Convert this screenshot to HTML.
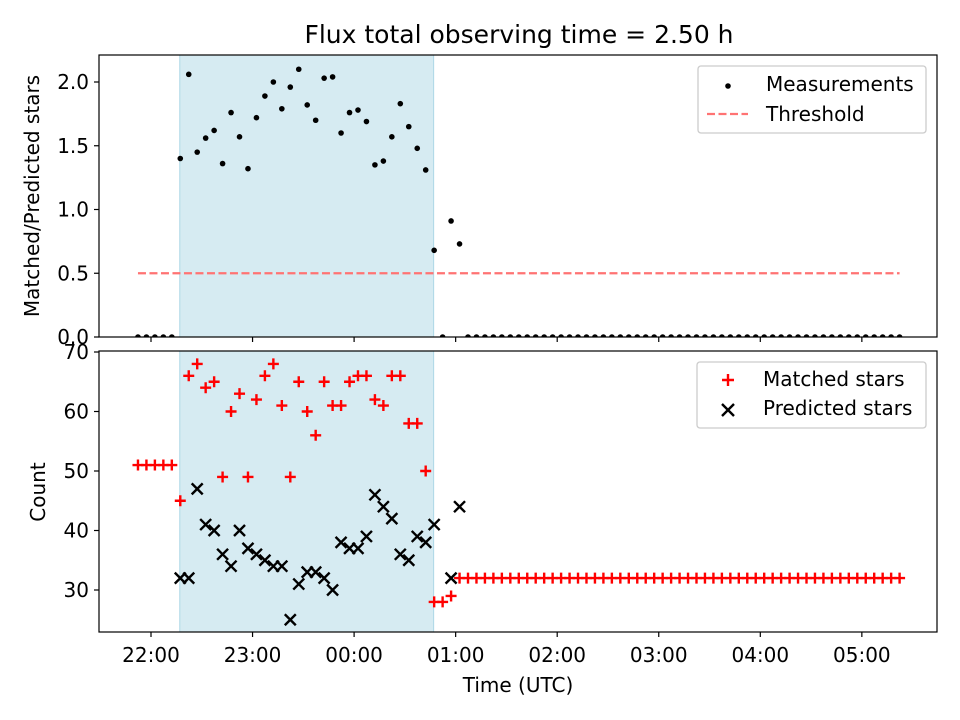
<!DOCTYPE html>
<html><head><meta charset="utf-8"><style>
body{margin:0;background:#fff;font-family:"Liberation Sans",sans-serif}
</style></head><body>
<svg id="chart" width="960" height="720" xmlns="http://www.w3.org/2000/svg" font-family="DejaVu Sans, Liberation Sans, sans-serif" style="position:absolute;left:0;top:0">
</svg>
<script>
// data (5-minute cadence, index i -> start time + 5*i minutes)
const startMinutes = 52.3; // minutes after 21:00
const ratios = [0,0,0,0,0,1.40,2.06,1.45,1.56,1.62,1.36,1.76,1.57,1.32,1.72,1.89,2.00,1.79,1.96,2.10,1.82,1.70,2.03,2.04,1.60,1.76,1.78,1.69,1.35,1.38,1.57,1.83,1.65,1.48,1.31,0.68,0,0.91,0.73,
 0,0,0,0,0,0,0,0,0,0,
 0,0,0,0,0,0,0,0,0,0,
 0,0,0,0,0,0,0,0,0,0,
 0,0,0,0,0,0,0,0,0,0,
 0,0,0,0,0,0,0,0,0,0,
 0,0];
const matched = [51,51,51,51,51,45,66,68,64,65,49,60,63,49,62,66,68,61,49,65,60,56,65,61,61,65,66,66,62,61,66,66,58,58,50,28,28,29,32,
 32,32,32,32,32,32,32,32,32,32,
 32,32,32,32,32,32,32,32,32,32,
 32,32,32,32,32,32,32,32,32,32,
 32,32,32,32,32,32,32,32,32,32,
 32,32,32,32,32,32,32,32,32,32,
 32,32];
const predicted = [null,null,null,null,null,32,32,47,41,40,36,34,40,37,36,35,34,34,25,31,33,33,32,30,38,37,37,39,46,44,42,36,35,39,38,41,null,32,44];
const threshold = 0.5;
const shadeStart = 77;  // minutes after 21:00 (22:17)
const shadeEnd = 227;   // 00:47
const xTickLabels = ["22:00","23:00","00:00","01:00","02:00","03:00","04:00","05:00"];
const topTicks = [0,0.5,1.0,1.5,2.0];
const botTicks = [30,40,50,60,70];

const NS="http://www.w3.org/2000/svg";
const svg=document.getElementById('chart');
function mk(tag,attrs,parent){const e=document.createElementNS(NS,tag);for(const k in attrs)e.setAttribute(k,attrs[k]);(parent||svg).appendChild(e);return e;}
const L=99,R=937;
const xs=m=>151+(m-60)*101.55/60;
const yTop=v=>337-v*127.5;
const yBot=v=>590-(v-30)*5.95;
const tOf=i=>startMinutes+5*i;
const n=matched.length;

function panel(y0,y1,name,ysc,ticks,fmt,showLabels){
  const g=mk('g',{});
  
  
  const cid='clip-'+name;
  const cp=mk('clipPath',{id:cid},g);mk('rect',{x:L,y:y0,width:R-L,height:y1-y0},cp);
  const sh=mk('rect',{x:xs(shadeStart),y:y0,width:xs(shadeEnd)-xs(shadeStart),height:y1-y0,fill:'#add8e6','fill-opacity':0.5,stroke:'#add8e6'},g);
  
  
  const plot=mk('g',{'clip-path':'url(#'+cid+')'},g);
  ticks.forEach(v=>{const y=ysc(v);mk('line',{x1:L-5,x2:L,y1:y,y2:y,stroke:'#000','stroke-width':1.2},g);
    const t=mk('text',{x:L-10,y:y+7,'text-anchor':'end','font-size':20},g);t.textContent=fmt(v);
    
    });
  xTickLabels.forEach((lab,k)=>{const x=xs(60+60*k);mk('line',{x1:x,x2:x,y1:y1,y2:y1+5,stroke:'#000','stroke-width':1.2},g);
    if(showLabels){const t=mk('text',{x:x,y:y1+30,'text-anchor':'middle','font-size':20},g);t.textContent=lab;
      
      }});
  mk('rect',{x:L,y:y0,width:R-L,height:y1-y0,fill:'none',stroke:'#000','stroke-width':1.2},g);
  return plot;
}
const p1=panel(55,337,'ratio-panel',yTop,topTicks,v=>v.toFixed(1),false);
const p2=panel(351,632,'count-panel',yBot,botTicks,v=>String(v),true);

const th=mk('line',{x1:xs(tOf(0)),x2:xs(tOf(n-1)),y1:yTop(threshold),y2:yTop(threshold),stroke:'#ff7373','stroke-width':2.2,'stroke-dasharray':'8,3.5'},p1);


ratios.forEach((v,i)=>{const c=mk('circle',{cx:xs(tOf(i)),cy:yTop(v),r:2.8,fill:'#000'},p1);
  
  });
matched.forEach((v,i)=>{const x=xs(tOf(i)),y=yBot(v);
  const p=mk('path',{d:`M${x-5.5},${y}H${x+5.5}M${x},${y-5.5}V${y+5.5}`,stroke:'#f00','stroke-width':2.4},p2);
  
  });
predicted.forEach((v,i)=>{if(v==null)return;const x=xs(tOf(i)),y=yBot(v);
  const p=mk('path',{d:`M${x-5.5},${y-5.5}L${x+5.5},${y+5.5}M${x-5.5},${y+5.5}L${x+5.5},${y-5.5}`,stroke:'#000','stroke-width':2.4},p2);
  
  });
</script>
<svg width="960" height="720" style="position:absolute;left:0;top:0" font-family="DejaVu Sans, Liberation Sans, sans-serif">
<text x="519" y="43" text-anchor="middle" font-size="25">Flux total observing time = 2.50 h</text>
<text transform="translate(39,196) rotate(-90)" text-anchor="middle" font-size="20">Matched/Predicted stars</text>
<text transform="translate(45,492) rotate(-90)" text-anchor="middle" font-size="20">Count</text>
<text x="518" y="692" text-anchor="middle" font-size="20">Time (UTC)</text>
<g>
<rect x="698" y="66" width="228" height="67" rx="3" fill="#fff" fill-opacity="0.8" stroke="#ccc" stroke-width="1.3"/>
<circle cx="728" cy="86" r="2.8" fill="#000"/>
<text x="766" y="91" font-size="20">Measurements</text>
<line x1="707" x2="748" y1="114" y2="114" stroke="#ff7373" stroke-width="2.2" stroke-dasharray="8,3.5"/>
<text x="766" y="121" font-size="20">Threshold</text>
</g>
<g>
<rect x="697" y="362" width="229" height="66" rx="3" fill="#fff" fill-opacity="0.8" stroke="#ccc" stroke-width="1.3"/>
<path d="M722,380H734M728,374V386" stroke="#f00" stroke-width="2.4"/>
<text x="763" y="386" font-size="20">Matched stars</text>
<path d="M722,404L734,416M722,416L734,404" stroke="#000" stroke-width="2.4"/>
<text x="763" y="415" font-size="20">Predicted stars</text>
</g>
</svg>
</body></html>
